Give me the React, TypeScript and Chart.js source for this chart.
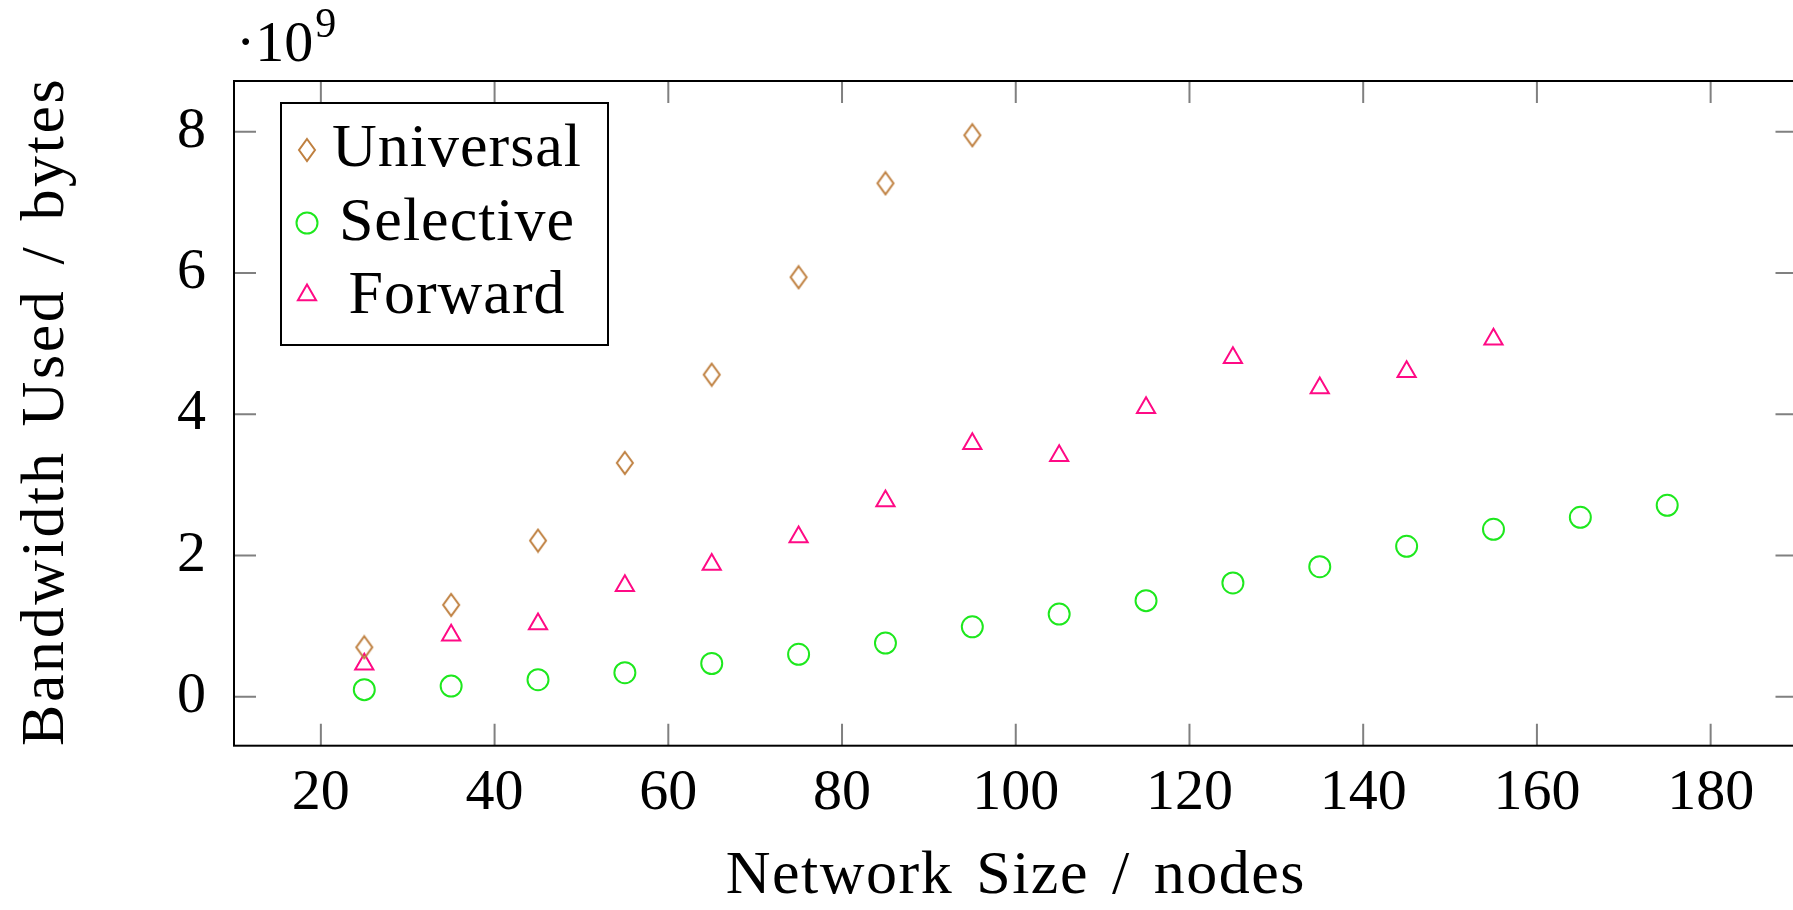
import React, { useEffect, useRef } from 'react';
import { Chart, registerables } from 'chart.js';

Chart.register(...registerables);

// ---- data (values in units of 10^9 bytes) ----
const universalX = [25, 35, 45, 55, 65, 75, 85, 95];
const universalY = [0.7, 1.3, 2.21, 3.31, 4.56, 5.94, 7.27, 7.95];

const selectiveX = [25, 35, 45, 55, 65, 75, 85, 95, 105, 115, 125, 135, 145, 155, 165, 175];
const selectiveY = [0.1, 0.15, 0.24, 0.34, 0.47, 0.6, 0.76, 0.99, 1.17, 1.36, 1.61, 1.84, 2.13, 2.37, 2.54, 2.71];

const forwardX = [25, 35, 45, 55, 65, 75, 85, 95, 105, 115, 125, 135, 145, 155];
const forwardY = [0.46, 0.87, 1.03, 1.57, 1.87, 2.26, 2.77, 3.58, 3.41, 4.09, 4.8, 4.37, 4.6, 5.06];

const xTicks = [20, 40, 60, 80, 100, 120, 140, 160, 180];
const yTicks = [0, 2, 4, 6, 8];

const seriesNames = ['Universal', 'Selective', 'Forward'];
const seriesColors = ['#bf8040', '#1ee81e', '#ff0a85'];

const xTitle = 'Network Size / nodes';
const yTitle = 'Bandwidth Used / bytes';
const scaleBase = '\u00b710';
const scaleExp = '9';

const FONT = '"Liberation Serif", "Times New Roman", serif';

function makeDiamond(color: string): HTMLCanvasElement {
  const c = document.createElement('canvas');
  c.width = 20;
  c.height = 26;
  const g = c.getContext('2d')!;
  g.strokeStyle = color;
  g.lineWidth = 2;
  g.beginPath();
  g.moveTo(10, 2);
  g.lineTo(18, 13);
  g.lineTo(10, 24);
  g.lineTo(2, 13);
  g.closePath();
  g.stroke();
  return c;
}

function drawMarker(ctx: CanvasRenderingContext2D, kind: number, x: number, y: number, color: string, diamond: HTMLCanvasElement) {
  ctx.save();
  ctx.strokeStyle = color;
  ctx.lineWidth = 2;
  if (kind === 0) {
    ctx.drawImage(diamond, x - diamond.width / 2, y - diamond.height / 2);
  } else if (kind === 1) {
    ctx.beginPath();
    ctx.arc(x, y, 10.5, 0, Math.PI * 2);
    ctx.stroke();
  } else {
    const r = 10.5;
    ctx.beginPath();
    ctx.moveTo(x, y - r);
    ctx.lineTo(x + r * Math.sin((2 * Math.PI) / 3), y - r * Math.cos((2 * Math.PI) / 3));
    ctx.lineTo(x + r * Math.sin((4 * Math.PI) / 3), y - r * Math.cos((4 * Math.PI) / 3));
    ctx.closePath();
    ctx.stroke();
  }
  ctx.restore();
}

export default function App() {
  const ref = useRef<HTMLCanvasElement | null>(null);

  useEffect(() => {
    document.body.style.margin = '0';
    document.body.style.overflow = 'hidden';
    const canvas = ref.current;
    if (!canvas) return;
    const diamond = makeDiamond(seriesColors[0]);

    const framePlugin = {
      id: 'pgfFrame',
      afterDraw(chart: any) {
        const { ctx, chartArea: a, scales } = chart;
        const xs = scales.x;
        const ys = scales.y;
        ctx.save();
        // inward ticks on all four sides
        ctx.strokeStyle = '#808080';
        ctx.lineWidth = 2;
        ctx.beginPath();
        for (const v of xTicks) {
          const px = xs.getPixelForValue(v);
          ctx.moveTo(px, a.bottom);
          ctx.lineTo(px, a.bottom - 22);
          ctx.moveTo(px, a.top);
          ctx.lineTo(px, a.top + 22);
        }
        for (const v of yTicks) {
          const py = ys.getPixelForValue(v);
          ctx.moveTo(a.left, py);
          ctx.lineTo(a.left + 22, py);
          ctx.moveTo(a.right, py);
          ctx.lineTo(a.right - 22, py);
        }
        ctx.stroke();
        // frame
        ctx.strokeStyle = '#000';
        ctx.lineWidth = 2;
        ctx.strokeRect(a.left, a.top, a.right - a.left, a.bottom - a.top);

        // legend
        const lx = 281, ly = 103, lw = 327, lh = 242;
        ctx.fillStyle = '#fff';
        ctx.fillRect(lx, ly, lw, lh);
        ctx.strokeStyle = '#000';
        ctx.lineWidth = 2;
        ctx.strokeRect(lx, ly, lw, lh);
        const rowY = [150, 223, 295];
        const baseY = [166, 240, 313];
        ctx.font = `62px ${FONT}`;
        (ctx as any).letterSpacing = '1px';
        ctx.fillStyle = '#000';
        ctx.textAlign = 'center';
        ctx.textBaseline = 'alphabetic';
        seriesNames.forEach((name, i) => {
          drawMarker(ctx, i, 307, rowY[i], seriesColors[i], diamond);
          ctx.fillText(name, 457, baseY[i]);
        });

        // axis titles
        (ctx as any).letterSpacing = '1.5px';
        (ctx as any).wordSpacing = '6px';
        ctx.fillText(xTitle, (a.left + a.right) / 2, 893);
        (ctx as any).letterSpacing = '2.6px';
        ctx.save();
        ctx.translate(63, (a.top + a.bottom) / 2 - 2);
        ctx.rotate(-Math.PI / 2);
        ctx.fillText(yTitle, 0, 0);
        ctx.restore();
        (ctx as any).letterSpacing = '0px';
        (ctx as any).wordSpacing = '0px';

        // exponent marker
        ctx.textAlign = 'left';
        ctx.font = `58px ${FONT}`;
        ctx.fillText(scaleBase, 236, 61);
        const w = ctx.measureText(scaleBase).width;
        ctx.font = `42px ${FONT}`;
        ctx.fillText(scaleExp, 236 + w + 2, 37);
        ctx.restore();
      },
    };

    const mk = (xsArr: number[], ysArr: number[]) => xsArr.map((x, i) => ({ x, y: ysArr[i] }));

    const chart = new Chart(canvas, {
      type: 'scatter',
      data: {
        datasets: [
          {
            label: seriesNames[0],
            data: mk(universalX, universalY),
            pointStyle: diamond as any,
            borderColor: seriesColors[0],
            backgroundColor: 'transparent',
          },
          {
            label: seriesNames[1],
            data: mk(selectiveX, selectiveY),
            pointStyle: 'circle',
            pointRadius: 10.5,
            borderWidth: 2,
            borderColor: seriesColors[1],
            backgroundColor: 'transparent',
          },
          {
            label: seriesNames[2],
            data: mk(forwardX, forwardY),
            pointStyle: 'triangle',
            pointRadius: 10.5,
            borderWidth: 2,
            borderColor: seriesColors[2],
            backgroundColor: 'transparent',
          },
        ],
      },
      options: {
        animation: false,
        responsive: false,
        devicePixelRatio: 1,
        layout: { padding: { left: 0, top: 81, right: 10.7, bottom: 0 } },
        plugins: {
          legend: { display: false },
          tooltip: { enabled: false },
        },
        scales: {
          x: {
            type: 'linear',
            position: 'bottom',
            min: 10,
            max: 190,
            grid: { display: false },
            border: { display: false },
            afterBuildTicks: (s: any) => {
              s.ticks = xTicks.map((v) => ({ value: v }));
            },
            afterFit: (s: any) => {
              s.height = 910 - 745.7;
            },
            ticks: {
              color: '#000',
              padding: 5,
              maxRotation: 0,
              autoSkip: false,
              font: { family: FONT, size: 58 },
            },
          },
          y: {
            type: 'linear',
            min: -0.694,
            max: 8.718,
            grid: { display: false },
            border: { display: false },
            afterBuildTicks: (s: any) => {
              s.ticks = yTicks.map((v) => ({ value: v }));
            },
            afterFit: (s: any) => {
              s.width = 234;
            },
            ticks: {
              color: '#000',
              padding: 20,
              autoSkip: false,
              font: { family: FONT, size: 58 },
            },
          },
        },
      },
      plugins: [framePlugin],
    } as any);

    return () => chart.destroy();
  }, []);

  return (
    <div style={{ width: 1810, height: 910, position: 'relative' }}>
      <canvas ref={ref} width={1810} height={910} style={{ display: 'block' }} />
    </div>
  );
}
